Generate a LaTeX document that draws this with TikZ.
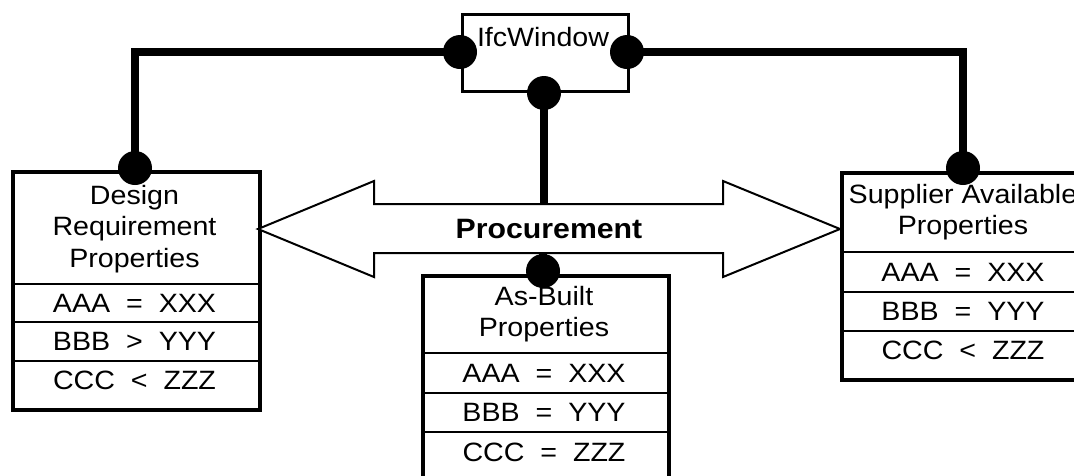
\documentclass[tikz,border=0pt]{standalone}
\usepackage{fontspec}
\setmainfont[FakeStretch=1.08]{Liberation Sans}
\begin{document}
\begin{tikzpicture}[x=1pt,y=-1pt,
  box/.style={draw, line width=3.5pt, fill=white, rectangle, inner sep=0pt, anchor=north west},
  divider/.style={line width=2pt},
  port/.style={circle, fill=black, minimum size=34pt, inner sep=0pt},
  link/.style={line width=8pt},
  lbl/.style={align=center, inner sep=0pt, font=\fontsize{26.5}{31.5}\selectfont},
  flow/.style={draw, line width=2pt, fill=white, line join=miter},
]
\clip (0,0) rectangle (1074,475);
\fill[white] (0,0) rectangle (1074,475);

% --- property sheets ---
\node[box, minimum width=247pt, minimum height=238pt] (design) at (11,170) {};
\draw[divider] (design.west |- 0,284) -- (design.east |- 0,284);
\draw[divider] (design.west |- 0,322) -- (design.east |- 0,322);
\draw[divider] (design.west |- 0,361) -- (design.east |- 0,361);
\node[lbl] (designhead) at (134.5,229) {Design\\Requirement\\Properties};
\node[lbl] (designa) at (134.5,303) {AAA~~=~~XXX};
\node[lbl] (designb) at (134.5,341.5) {BBB~~>~~YYY};
\node[lbl] (designc) at (134.5,380) {CCC~~<~~ZZZ};

\node[box, minimum width=246pt, minimum height=207pt] (supplier) at (840,171) {};
\draw[divider] (supplier.west |- 0,252) -- (supplier.east |- 0,252);
\draw[divider] (supplier.west |- 0,292) -- (supplier.east |- 0,292);
\draw[divider] (supplier.west |- 0,331) -- (supplier.east |- 0,331);
\node[lbl] (supplierhead) at (963,212) {Supplier Available\\Properties};
\node[lbl] (suppliera) at (963,272) {AAA~~=~~XXX};
\node[lbl] (supplierb) at (963,311.5) {BBB~~=~~YYY};
\node[lbl] (supplierc) at (963,350) {CCC~~<~~ZZZ};

\node[box, minimum width=246pt, minimum height=240pt] (asbuilt) at (421,274) {};
\draw[divider] (asbuilt.west |- 0,353) -- (asbuilt.east |- 0,353);
\draw[divider] (asbuilt.west |- 0,393) -- (asbuilt.east |- 0,393);
\draw[divider] (asbuilt.west |- 0,432) -- (asbuilt.east |- 0,432);
\node[lbl] (asbuilthead) at (544,314) {As-Built\\Properties};
\node[lbl] (asbuilta) at (544,373) {AAA~~=~~XXX};
\node[lbl] (asbuiltb) at (544,412.5) {BBB~~=~~YYY};
\node[lbl] (asbuiltc) at (544,452) {CCC~~=~~ZZZ};

% --- procurement double arrow ---
\draw[flow] (258,229) -- (374,181) -- (374,204) -- (723,204) -- (723,181)
  -- (840,229) -- (723,277) -- (723,253) -- (374,253) -- (374,277) -- cycle;
\node[font=\bfseries\fontsize{28}{30}\selectfont, inner sep=0pt] (proc) at (549,229) {Procurement};
\coordinate (shafttop) at (544,204);
\coordinate (shaftbot) at (543,253);

% --- window object ---
\node[draw, line width=3pt, fill=white, minimum width=166pt, minimum height=77pt,
  inner sep=0pt, anchor=north west] (win) at (461,13) {};
\node[lbl] (wintext) at (543,37) {IfcWindow};

% --- ports ---
\node[port] (wl) at (460,52) {};
\node[port] (wr) at (627,52) {};
\node[port] (wb) at (544,93) {};
\node[port] (dp) at (135,168) {};
\node[port] (sp) at (963,168) {};
\node[port] (ap) at (543,271) {};

% --- relationships ---
\draw[link] (wl.center) -| (dp.center);
\draw[link] (wr.center) -| (sp.center);
\draw[link] (wb.center) -- (shafttop);
\draw[link] (shaftbot) -- (ap.center);
\end{tikzpicture}
\end{document}
